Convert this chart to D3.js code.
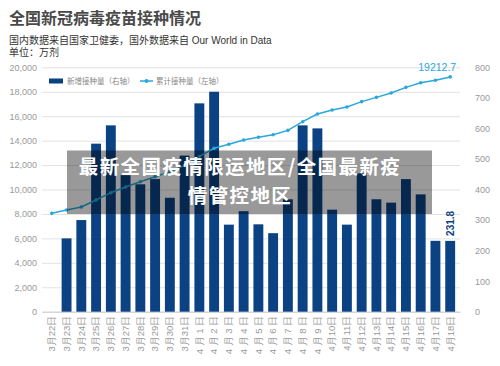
<!DOCTYPE html>
<html>
<head>
<meta charset="utf-8">
<script src="https://cdn.jsdelivr.net/npm/d3@7"></script>
<style>
  body { margin: 0; background: #fff; }
  svg { font-family: "Liberation Sans", "Noto Sans CJK SC", sans-serif; }
</style>
</head>
<body>
<svg id="chart" width="500" height="366"></svg>
<script>
// Daten
const dates = ["3月22日", "3月23日", "3月24日", "3月25日", "3月26日", "3月27日", "3月28日",
  "3月29日", "3月30日", "3月31日", "4 月 1 日", "4 月 2 日", "4 月 3 日", "4 月 4 日",
  "4 月 5 日", "4 月 6 日", "4 月 7 日", "4 月 8 日", "4 月 9 日", "4月10日", "4月11日",
  "4月12日", "4月13日", "4月14日", "4月15日", "4月16日", "4月17日", "4月18日"];
const dailyDoses = [null, 240, 300, 550, 610, 447, 417, 434, 373, 511, 682, 720, 285, 329,
  286, 257, 368, 610, 600, 334, 285, 453, 368, 357, 434, 384, 232, 231.8];
const totalDoses = [8050, 8320, 8570, 9140, 9740, 10200, 10640, 11050, 11460, 11970, 12700,
  13370, 13700, 14050, 14270, 14480, 14840, 15550, 16180, 16500, 16750, 17190, 17540, 17900,
  18360, 18740, 18940, 19212.7];
const leftTicks = [0, 2000, 4000, 6000, 8000, 10000, 12000, 14000, 16000, 18000, 20000];
const rightTicks = [0, 100, 200, 300, 400, 500, 600, 700, 800];

const barColor = "#0b4283";
const lineColor = "#2aa8dc";
const svg = d3.select("#chart");

// Titel
svg.append("text").attr("x", 9).attr("y", 24)
  .attr("font-size", 16).attr("font-weight", "bold").attr("fill", "#4a4a4a")
  .text("全国新冠病毒疫苗接种情况");
svg.append("text").attr("x", 9).attr("y", 44)
  .attr("font-size", 10).attr("fill", "#333")
  .text("国内数据来自国家卫健委，国外数据来自 Our World in Data");
svg.append("text").attr("x", 9).attr("y", 56)
  .attr("font-size", 10).attr("fill", "#333")
  .text("单位：万剂");

// Skalen
const x = d3.scaleBand().domain(dates).range([42, 460]).padding(0.33);
const yL = d3.scaleLinear().domain([0, 20000]).range([311.7, 67.3]);
const yR = d3.scaleLinear().domain([0, 800]).range([311.7, 67.3]);

// Achsen
const leftAxis = svg.append("g").attr("transform", "translate(42,0)")
  .call(d3.axisLeft(yL).tickValues(leftTicks).tickSize(-418).tickPadding(5));
leftAxis.select(".domain").remove();
leftAxis.selectAll("line").attr("stroke", "#e2e2e2");
leftAxis.selectAll("text").attr("fill", "#999").attr("font-size", 9)
  .attr("font-family", "Liberation Sans, sans-serif");

const rightAxis = svg.append("g").attr("transform", "translate(460,0)")
  .call(d3.axisRight(yR).tickValues(rightTicks).tickSize(0).tickPadding(15));
rightAxis.select(".domain").remove();
rightAxis.selectAll("text").attr("fill", "#999").attr("font-size", 9)
  .attr("font-family", "Liberation Sans, sans-serif");

const xAxis = svg.append("g").attr("transform", "translate(0,311.7)")
  .call(d3.axisBottom(x).tickSize(0));
xAxis.select(".domain").attr("stroke", "#ccc");
xAxis.selectAll("text")
  .attr("transform", "rotate(-90)")
  .attr("x", -4).attr("y", 0).attr("dy", "0.35em")
  .attr("text-anchor", "end")
  .attr("fill", "#999").attr("font-size", 9.5);

// Balken
svg.append("g").selectAll("rect")
  .data(dates.map((d, i) => ({ d, v: dailyDoses[i] })).filter(o => o.v != null))
  .join("rect")
  .attr("x", o => x(o.d))
  .attr("width", x.bandwidth())
  .attr("y", o => yR(o.v))
  .attr("height", o => yR(0) - yR(o.v))
  .attr("fill", barColor);

// Linie
const pts = dates.map((d, i) => ({ d, v: totalDoses[i] }));
const cx = o => x(o.d) + x.bandwidth() / 2;
svg.append("path").datum(pts)
  .attr("d", d3.line().x(cx).y(o => yL(o.v)))
  .attr("fill", "none").attr("stroke", lineColor).attr("stroke-width", 1.5);
svg.append("g").selectAll("circle").data(pts).join("circle")
  .attr("cx", cx).attr("cy", o => yL(o.v)).attr("r", 1.8).attr("fill", lineColor);

// Beschriftungen
const last = pts[pts.length - 1];
svg.append("text").attr("x", cx(last) + 6).attr("y", yL(last.v) - 6)
  .attr("text-anchor", "end").attr("font-size", 10.5).attr("fill", lineColor)
  .text(last.v);
const lastBar = dailyDoses[dailyDoses.length - 1];
svg.append("text")
  .attr("transform", `translate(${cx(last) + 3.5},${yR(lastBar) - 5}) rotate(-90)`)
  .attr("text-anchor", "start").attr("font-size", 10).attr("font-weight", "bold")
  .attr("fill", barColor).text("231.8");

// Legende
const lg = svg.append("g").attr("transform", "translate(49,81)");
lg.append("rect").attr("x", 0).attr("y", -2.5).attr("width", 14).attr("height", 5).attr("fill", barColor);
lg.append("text").attr("x", 18).attr("y", 0).attr("dy", "0.35em")
  .attr("font-size", 7.5).attr("fill", "#888").text("新增接种量（右轴）");
lg.append("line").attr("x1", 91).attr("x2", 104).attr("y1", 0).attr("y2", 0)
  .attr("stroke", lineColor).attr("stroke-width", 1.5);
lg.append("circle").attr("cx", 97.5).attr("cy", 0).attr("r", 2).attr("fill", lineColor);
lg.append("text").attr("x", 107).attr("y", 0).attr("dy", "0.35em")
  .attr("font-size", 7.5).attr("fill", "#888").text("累计接种量（左轴）");

// Overlay
svg.append("rect").attr("x", 67).attr("y", 150.5).attr("width", 365).attr("height", 63.5)
  .attr("fill", "rgba(0,0,0,0.4)");
const ov = svg.append("g").attr("font-size", 19.5).attr("font-weight", "bold")
  .attr("fill", "#fff").attr("text-anchor", "middle").attr("letter-spacing", 1.4)
  .attr("font-family", "Noto Sans CJK SC, sans-serif");
ov.append("text").attr("x", 240).attr("y", 174).text("最新全国疫情限运地区/全国最新疫");
ov.append("text").attr("x", 240).attr("y", 203).text("情管控地区");
</script>
</body>
</html>
